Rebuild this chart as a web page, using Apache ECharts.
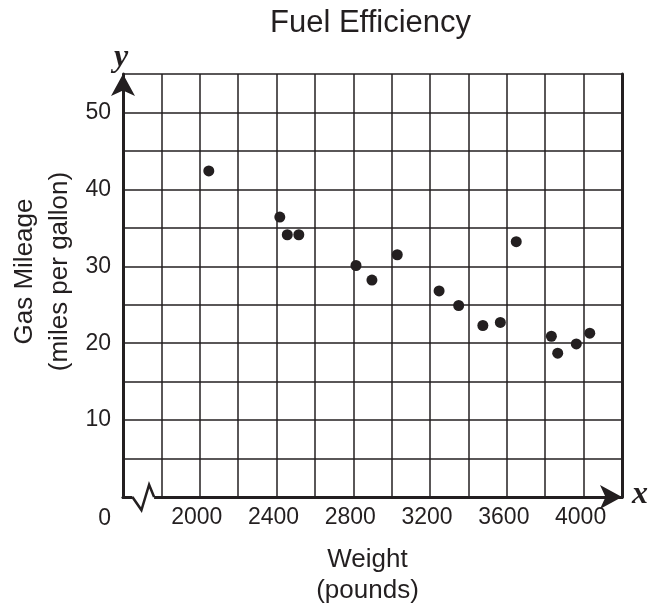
<!DOCTYPE html>
<html>
<head>
<meta charset="utf-8">
<script src="https://cdn.jsdelivr.net/npm/echarts@6/dist/echarts.min.js"></script>
<style>
html, body { margin: 0; padding: 0; background: #fff; }
#main { width: 652px; height: 606px; }
</style>
</head>
<body>
<div id="main"></div>
<script>
// weight (pounds) and gas mileage (mpg) of each car
var weight = [2047, 2417, 2456, 2516, 2814, 2897, 3029, 3247, 3349, 3475, 3566, 3649, 3832, 3865, 3962, 4032];
var mileage = [42.4, 36.4, 34.1, 34.1, 30.1, 28.2, 31.5, 26.8, 24.9, 22.3, 22.7, 33.2, 20.9, 18.7, 19.9, 21.3];
var xTickLabels = [2000, 2400, 2800, 3200, 3600, 4000];
var yTickLabels = [10, 20, 30, 40, 50];
// zigzag axis break between 0 and the first gridline
var breakX = [1649, 1696, 1736, 1762];
var breakY = [0, -1.7, 1.6, 0];

var ink = '#231f20';
var font = 'Liberation Sans, Arial, sans-serif';

var points = [];
for (var i = 0; i < weight.length; i++) {
  points.push([weight[i], mileage[i]]);
}

var chart = echarts.init(document.getElementById('main'));
chart.setOption({
  animation: false,
  title: {
    text: 'Fuel Efficiency',
    left: 265,
    top: 3,
    textStyle: { fontFamily: font, fontSize: 31, fontWeight: 'normal', color: ink }
  },
  grid: { left: 123, right: 30, top: 74, bottom: 109, containLabel: false, outerBoundsMode: 'none' },
  xAxis: [
    {
      type: 'value',
      min: 1600,
      max: 4200,
      interval: 200,
      name: 'Weight\n(pounds)',
      nameLocation: 'middle',
      nameGap: 47,
      nameTextStyle: { fontFamily: font, fontSize: 26, color: ink, lineHeight: 31, padding: [0, 10, 0, 0] },
      axisLine: {
        show: true,
        symbol: ['none', 'arrow'],
        symbolSize: [18, 22],
        symbolOffset: [0, 0],
        lineStyle: { color: ink, width: 3 }
      },
      axisTick: { show: false },
      axisLabel: {
        margin: 9,
        fontFamily: font,
        fontSize: 23,
        color: ink,
        padding: [0, 6, 0, 0],
        formatter: function (v) {
          return xTickLabels.indexOf(v) >= 0 ? String(v) : '';
        }
      },
      splitLine: { show: true, lineStyle: { color: ink, width: 1.5 } }
    },
    {
      type: 'value',
      position: 'top',
      min: 1600,
      max: 4200,
      axisLine: { show: true, lineStyle: { color: ink, width: 2.5 } },
      axisTick: { show: false },
      axisLabel: { show: false },
      splitLine: { show: false }
    }
  ],
  yAxis: [
    {
      type: 'value',
      min: 0,
      max: 55,
      interval: 5,
      name: 'Gas Mileage\n(miles per gallon)',
      nameLocation: 'middle',
      nameGap: 46,
      nameRotate: 90,
      nameMoveOverlap: false,
      nameTextStyle: { fontFamily: font, fontSize: 26, color: ink, lineHeight: 35, padding: [0, 0, 0, 28] },
      axisLine: {
        show: true,
        symbol: ['none', 'arrow'],
        symbolSize: [18, 22],
        symbolOffset: [0, 0],
        lineStyle: { color: ink, width: 3 }
      },
      axisTick: { show: false },
      axisLabel: {
        margin: 12,
        fontFamily: font,
        fontSize: 23,
        color: ink,
        formatter: function (v) {
          if (v === 0) return '{z|0}';
          return yTickLabels.indexOf(v) >= 0 ? String(v) : '';
        },
        rich: {
          z: { fontFamily: font, fontSize: 23, color: ink, padding: [44, 0, 0, 0] }
        }
      },
      splitLine: { show: true, lineStyle: { color: ink, width: 1.5 } }
    },
    {
      type: 'value',
      position: 'right',
      min: 0,
      max: 55,
      axisLine: { show: true, lineStyle: { color: ink, width: 3 } },
      axisTick: { show: false },
      axisLabel: { show: false },
      splitLine: { show: false }
    }
  ],
  series: [
    {
      type: 'scatter',
      data: points,
      symbol: 'circle',
      symbolSize: 11,
      itemStyle: { color: ink, opacity: 1 },
      z: 5
    }
  ]
});

// axis break and axis letters, placed through the chart's own scales
var brk = [];
for (var j = 0; j < breakX.length; j++) {
  brk.push(chart.convertToPixel({ gridIndex: 0 }, [breakX[j], breakY[j]]));
}
var xEnd = chart.convertToPixel({ gridIndex: 0 }, [4200, 0]);
var yEnd = chart.convertToPixel({ gridIndex: 0 }, [1600, 55]);

chart.setOption({
  graphic: [
    {
      type: 'rect',
      shape: { x: brk[0][0], y: brk[0][1] - 3, width: brk[3][0] - brk[0][0], height: 6 },
      style: { fill: '#fff' },
      z: 100
    },
    {
      type: 'polyline',
      shape: { points: brk },
      style: { stroke: ink, lineWidth: 2.5, fill: null },
      z: 101
    },
    {
      type: 'text',
      x: xEnd[0] + 10,
      y: xEnd[1] - 2,
      style: {
        text: 'x',
        font: 'italic bold 32px "Liberation Serif", "DejaVu Serif", serif',
        fill: ink,
        verticalAlign: 'middle'
      },
      z: 101
    },
    {
      type: 'text',
      x: yEnd[0] - 2,
      y: yEnd[1] - 16,
      style: {
        text: 'y',
        font: 'italic bold 32px "Liberation Serif", "DejaVu Serif", serif',
        fill: ink,
        align: 'center',
        verticalAlign: 'middle'
      },
      z: 101
    }
  ]
});
</script>
</body>
</html>
